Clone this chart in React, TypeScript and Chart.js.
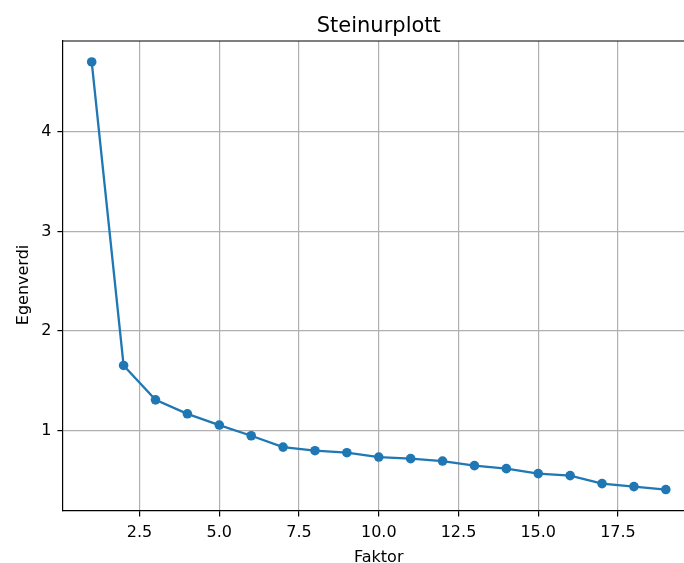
import React, { useEffect, useRef } from "react";
import { Chart, registerables } from "chart.js";

Chart.register(...registerables);

const chartTitle = "Steinurplott";
const xAxisLabel = "Faktor";
const yAxisLabel = "Egenverdi";
const factors = [1, 2, 3, 4, 5, 6, 7, 8, 9, 10, 11, 12, 13, 14, 15, 16, 17, 18, 19];
const eigenvalues = [4.70, 1.655, 1.31, 1.17, 1.057, 0.95, 0.836, 0.80, 0.78, 0.736, 0.72, 0.696, 0.65, 0.62, 0.57, 0.55, 0.47, 0.44, 0.41];
const xTicks = [2.5, 5.0, 7.5, 10.0, 12.5, 15.0, 17.5];
const yTicks = [1, 2, 3, 4];
// full axes limits; the right part of the axes is cut off by the picture edge
const xLimits = [0.1, 19.9];
const xVisibleMax = 19.57;
const yLimits = [0.195, 4.91];

const FONT = "'DejaVu Sans', sans-serif";
const BLUE = "#1f77b4";

const labelsPlugin = {
  id: "mplLabels",
  afterDraw(chart: any) {
    const { ctx, chartArea } = chart;
    const xs = chart.scales.x;
    const cx = (xs.getPixelForValue(xLimits[0]) + xs.getPixelForValue(xLimits[1])) / 2;
    const cy = (chartArea.top + chartArea.bottom) / 2;
    ctx.save();
    ctx.strokeStyle = "#000";
    ctx.lineWidth = 1.2;
    ctx.beginPath();
    ctx.moveTo(chartArea.left, chartArea.top);
    ctx.lineTo(chartArea.right, chartArea.top);
    ctx.stroke();
    ctx.fillStyle = "#000";
    ctx.textAlign = "center";
    ctx.textBaseline = "alphabetic";
    ctx.font = `21px ${FONT}`;
    ctx.fillText(chartTitle, cx, chartArea.top - 9.5);
    ctx.font = `16px ${FONT}`;
    ctx.fillText(xAxisLabel, cx, chartArea.bottom + 50.5);
    ctx.translate(chartArea.left - 35, cy + 9);
    ctx.rotate(-Math.PI / 2);
    ctx.fillText(yAxisLabel, 0, 0);
    ctx.restore();
  },
};

export default function App() {
  const ref = useRef<HTMLCanvasElement | null>(null);
  useEffect(() => {
    if (!ref.current) return;
    const chart = new Chart(ref.current, {
      type: "line",
      data: {
        datasets: [
          {
            data: factors.map((f, i) => ({ x: f, y: eigenvalues[i] })),
            borderColor: BLUE,
            backgroundColor: BLUE,
            borderWidth: 2.3,
            pointRadius: 4.8,
            pointHoverRadius: 4.8,
            pointBorderWidth: 0,
            pointBackgroundColor: BLUE,
            tension: 0,
          },
        ],
      },
      options: {
        animation: false,
        responsive: false,
        maintainAspectRatio: false,
        layout: { autoPadding: false, padding: { left: 0, right: 0, top: 41, bottom: 0 } },
        plugins: {
          legend: { display: false },
          tooltip: { enabled: false },
          title: { display: false },
        },
        scales: {
          x: {
            type: "linear",
            min: xLimits[0],
            max: xVisibleMax,
            afterBuildTicks: (s: any) => {
              s.ticks = xTicks.map((v) => ({ value: v }));
            },
            afterFit: (s: any) => {
              s.height = 52;
              s.paddingLeft = 0;
              s.paddingRight = 0;
            },
            ticks: {
              color: "#000",
              font: { family: FONT, size: 16 },
              padding: 7,
              maxRotation: 0,
              autoSkip: false,
              callback: (v: any) => Number(v).toFixed(1),
            },
            grid: { color: "#b0b0b0", lineWidth: 1.2, tickLength: 5.6, tickColor: "#000" },
            border: { color: "#000", width: 1.2 },
            title: { display: false },
          },
          y: {
            type: "linear",
            min: yLimits[0],
            max: yLimits[1],
            afterBuildTicks: (s: any) => {
              s.ticks = yTicks.map((v) => ({ value: v }));
            },
            afterFit: (s: any) => {
              s.width = 63;
              s.paddingTop = 0;
              s.paddingBottom = 0;
            },
            ticks: {
              color: "#000",
              font: { family: FONT, size: 16 },
              padding: 6,
              callback: (v: any) => String(v),
            },
            grid: { color: "#b0b0b0", lineWidth: 1.2, tickLength: 5.6, tickColor: "#000" },
            border: { color: "#000", width: 1.2 },
            title: { display: false },
          },
        },
      },
      plugins: [labelsPlugin],
    });
    return () => chart.destroy();
  }, []);
  return (
    <div style={{ position: "fixed", left: 0, top: 0, width: 684, height: 563, background: "#fff" }}>
      <canvas ref={ref} width={684} height={563} style={{ width: 684, height: 563, display: "block" }} />
    </div>
  );
}
